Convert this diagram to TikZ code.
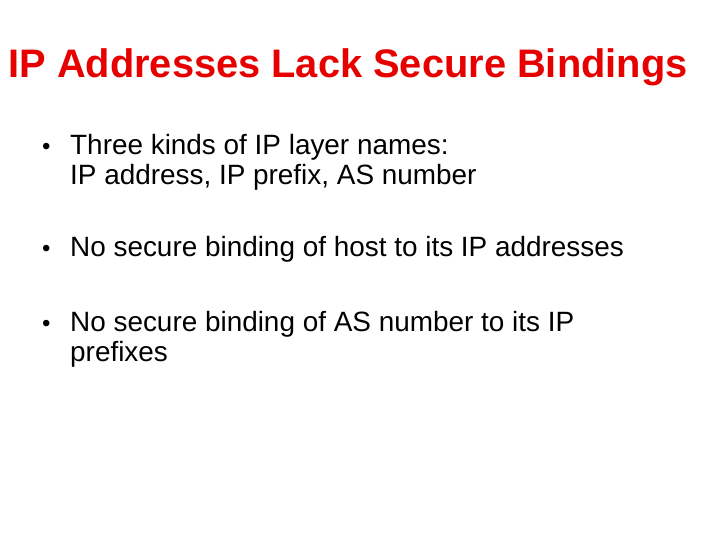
\documentclass[tikz,border=0pt]{standalone}
\usepackage{fontspec}
\setmainfont{Liberation Sans}
\definecolor{titlered}{RGB}{230,0,0}
\begin{document}
\begin{tikzpicture}[x=1pt,y=1pt,
  txt/.style={anchor=base west,inner sep=0pt,font=\fontsize{27.9}{32}\selectfont},
  dot/.style={anchor=base west,inner sep=0pt,font=\fontsize{24}{28}\selectfont}]
\useasboundingbox[fill=white] (0,0) rectangle (720,540);
\node[anchor=base,inner sep=0pt,text=titlered,font=\fontsize{39.8}{44}\selectfont\bfseries] (title) at (348,462) {IP Addresses Lack Secure Bindings};
\node[dot] (d1) at (42,385) {•};
\node[txt] (t1) at (70,385) {Three kinds of IP layer names:};
\node[txt] (t1b) at (70,355) {IP address, IP prefix, AS number};
\node[dot] (d2) at (42,283) {•};
\node[txt] (t2) at (70,283) {No secure binding of host to its IP addresses};
\node[dot] (d3) at (42,208) {•};
\node[txt] (t3) at (70,208) {No secure binding of AS number to its IP};
\node[txt] (t3b) at (70,178) {prefixes};
\end{tikzpicture}
\end{document}
